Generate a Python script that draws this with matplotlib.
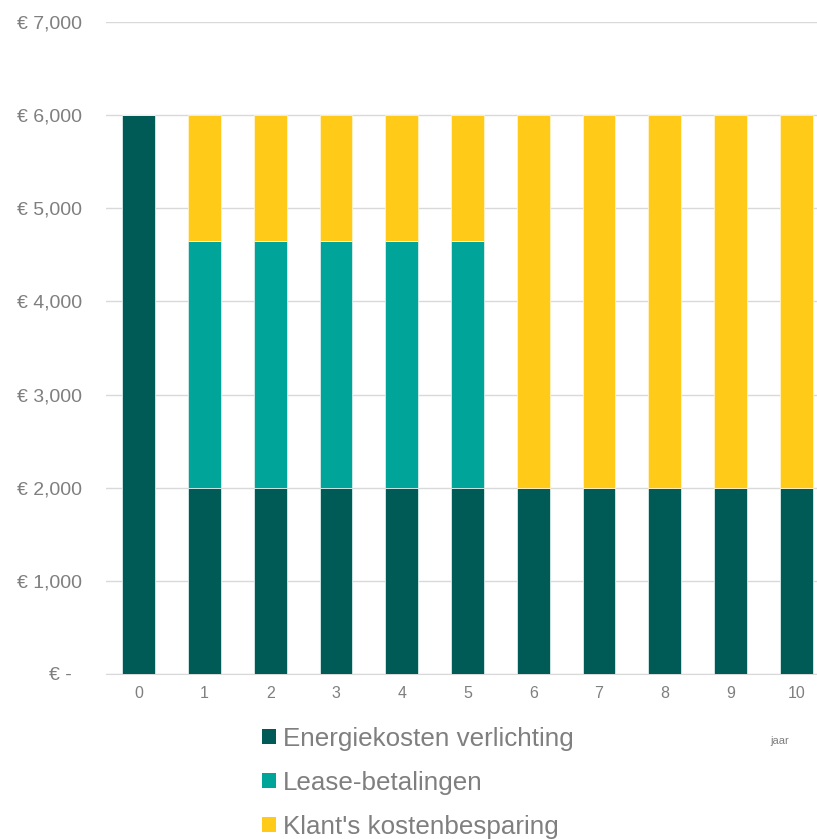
import numpy as np
import matplotlib
matplotlib.use("Agg")
import matplotlib.pyplot as plt
from matplotlib.patches import Patch
from matplotlib.ticker import FuncFormatter

plt.rcParams['font.family'] = ['Liberation Sans', 'DejaVu Sans']

# jaren en kostenopbouw (euro per jaar)
years = [0, 1, 2, 3, 4, 5, 6, 7, 8, 9, 10]
energy = [6000, 2000, 2000, 2000, 2000, 2000, 2000, 2000, 2000, 2000, 2000]
lease = [0, 2650, 2650, 2650, 2650, 2650, 0, 0, 0, 0, 0]
savings = [0, 1350, 1350, 1350, 1350, 1350, 4000, 4000, 4000, 4000, 4000]
labels = ["Energiekosten verlichting", "Lease-betalingen", "Klant's kostenbesparing"]
colors = ["#005A55", "#00A499", "#FFCB18"]

fig = plt.figure(figsize=(8.17, 8.39), dpi=100)
ax = fig.add_axes([106 / 817, 1 - 674 / 839, 723 / 817, 652 / 839])

x = np.array(years)
energy = np.array(energy)
lease = np.array(lease)
savings = np.array(savings)

ax.bar(x, energy, width=0.5, color=colors[0], edgecolor="#d8ecea", linewidth=0.6, zorder=3)
ax.bar(x, lease, width=0.5, bottom=energy, color=colors[1], edgecolor="#d8ecea", linewidth=0.6, zorder=3)
ax.bar(x, savings, width=0.5, bottom=energy + lease, color=colors[2], edgecolor="#fff3c8", linewidth=0.6, zorder=3)

ax.set_xlim(-0.5, 10.5)
ax.set_ylim(0, 7000)
ax.set_yticks(range(0, 7001, 1000))
ax.yaxis.set_major_formatter(FuncFormatter(lambda v, p: "€ -  " if v == 0 else "€ {:,.0f}".format(v)))
ax.set_xticks(years)

ax.grid(axis="y", color="#d9d9d9", linewidth=1, zorder=0)
for s in ["top", "right", "left"]:
    ax.spines[s].set_visible(False)
ax.spines["bottom"].set_color("#d9d9d9")
ax.tick_params(axis="both", length=0, colors="#7f7f7f")
ax.tick_params(axis="y", pad=17, labelsize=14)
ax.tick_params(axis="x", pad=9, labelsize=11.5)

handles = [Patch(facecolor=c, edgecolor="none") for c in colors]
fig.legend(handles, labels, loc="center left", bbox_to_anchor=(262 / 817, 1 - 783 / 839),
           frameon=False, fontsize=18.7, labelcolor="#7f7f7f", handlelength=0.52, handleheight=0.52,
           handletextpad=0.3, labelspacing=0.765, borderaxespad=0, borderpad=0)

fig.text(770 / 817, 1 - 741 / 839, "jaar", fontsize=8, color="#7f7f7f", va="center")

fig.savefig("out.png", dpi=100)
